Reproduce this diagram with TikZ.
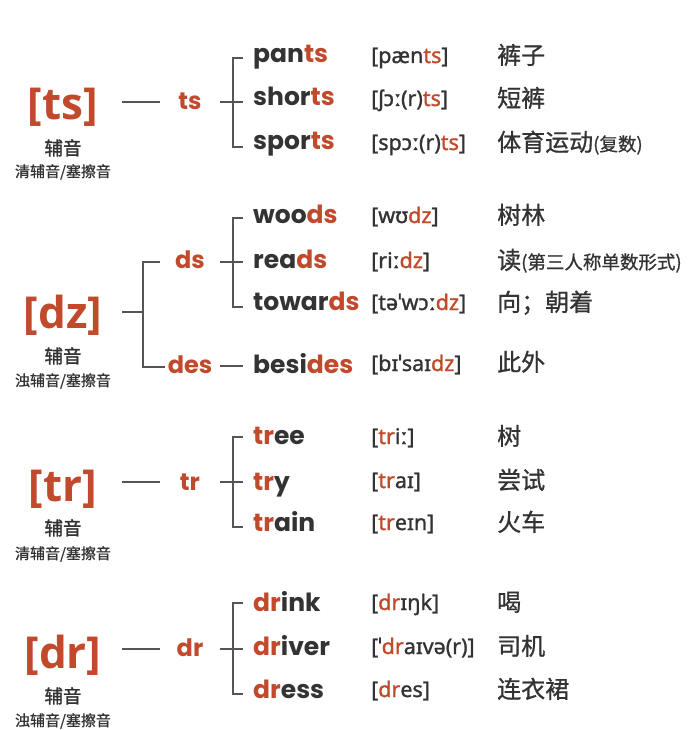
\documentclass[tikz,border=0pt]{standalone}
\usepackage{fontspec}
\setmainfont{Open Sans}
\newfontfamily\popf{Poppins}
\newfontfamily\bigf{Open Sans}
\newfontfamily\ipaf{Noto Sans}[FakeBold=1.2]
\newfontfamily\cjkf{Noto Sans CJK SC}[FakeBold=0.8]
\newfontfamily\cjkh{Noto Sans CJK SC}[FakeBold=1.6]
\definecolor{rd}{HTML}{C04A2B}
\definecolor{dk}{HTML}{333333}
\definecolor{ln}{HTML}{555555}
\newcommand{\R}[1]{{\color{rd}#1}}
\tikzset{
  bigsym/.style={anchor=base, inner sep=0pt, text=rd, font=\bigf\bfseries\fontsize{44}{44}\selectfont},
  subone/.style={anchor=base, inner sep=0pt, text=dk, font=\cjkh\fontsize{18.5}{18.5}\selectfont},
  subtwo/.style={anchor=base, inner sep=0pt, text=dk, font=\cjkf\fontsize{15}{15}\selectfont},
  midsym/.style={anchor=base, inner sep=0pt, text=rd, font=\popf\bfseries\fontsize{24}{24}\selectfont},
  wordbox/.style={anchor=base west, inner sep=0pt, text=dk, font=\popf\bfseries\fontsize{25}{25}\selectfont},
  ipabox/.style={anchor=base west, inner sep=0pt, text=dk, font=\ipaf\fontsize{21.5}{21.5}\selectfont},
  meanbox/.style={anchor=base west, inner sep=0pt, text=dk, font=\cjkf\fontsize{24}{24}\selectfont},
  conn/.style={draw=ln, line width=1.2pt},
}
\newcommand{\sm}[1]{{\fontsize{18.5}{18.5}\selectfont #1}}
\begin{document}
\begin{tikzpicture}[x=1pt,y=-1pt]
\useasboundingbox[fill=white] (0,0) rectangle (690,730);

% ---------- section 1: ts ----------
\node[bigsym] (tsB) at (63,120) {[ts]};
\node[subone] (tsA) at (63,155) {辅音};
\node[subtwo] (tsC) at (63,177) {清辅音/塞擦音};
\node[midsym] (tsM) at (190,110) {ts};
\coordinate (tsL1) at (122,102); \coordinate (tsL2) at (160,102);
\draw[conn] (tsL1) -- (tsL2);
\coordinate (tsR1) at (220,102); \coordinate (tsR2) at (243,102);
\draw[conn] (tsR1) -- (tsR2);
\coordinate (tsT) at (243,58); \coordinate (tsTv) at (233,58);
\coordinate (tsE) at (243,147); \coordinate (tsEv) at (233,147);
\draw[conn] (tsT) -- (tsTv) -- (tsEv) -- (tsE);
\node[wordbox] (w1) at (253,63) {pan\R{ts}};
\node[wordbox] (w2) at (253,106) {shor\R{ts}};
\node[wordbox] (w3) at (253,150) {spor\R{ts}};
\node[ipabox] (p1) at (371,63) {[pæn\R{ts}]};
\node[ipabox] (p2) at (371,106) {[ʃɔː(r)\R{ts}]};
\node[ipabox] (p3) at (371,150) {[spɔː(r)\R{ts}]};
\node[meanbox] (m1) at (497,64) {裤子};
\node[meanbox] (m2) at (497,107) {短裤};
\node[meanbox] (m3) at (497,151) {体育运动\sm{(复数)}};

% ---------- section 2: dz ----------
\node[bigsym] (dzB) at (63,328) {[dz]};
\node[subone] (dzA) at (63,363) {辅音};
\node[subtwo] (dzC) at (63,386) {浊辅音/塞擦音};
\coordinate (dzL1) at (122,312); \coordinate (dzL2) at (143,312);
\draw[conn] (dzL1) -- (dzL2);
\coordinate (dzVt) at (143,262); \coordinate (dzVb) at (143,367);
\coordinate (dzTt) at (160,262); \coordinate (dzTb) at (165,367);
\draw[conn] (dzTt) -- (dzVt) -- (dzVb) -- (dzTb);
\node[midsym] (dsM) at (190,268) {ds};
\node[midsym] (desM) at (190,373) {des};
\coordinate (dsR1) at (220,262); \coordinate (dsR2) at (243,262);
\draw[conn] (dsR1) -- (dsR2);
\coordinate (dsT) at (243,218); \coordinate (dsTv) at (233,218);
\coordinate (dsE) at (243,307); \coordinate (dsEv) at (233,307);
\draw[conn] (dsT) -- (dsTv) -- (dsEv) -- (dsE);
\coordinate (desR1) at (220,366); \coordinate (desR2) at (243,366);
\draw[conn] (desR1) -- (desR2);
\node[wordbox] (w4) at (253,223) {woo\R{ds}};
\node[wordbox] (w5) at (253,268) {rea\R{ds}};
\node[wordbox] (w6) at (253,310) {towar\R{ds}};
\node[wordbox] (w7) at (253,373) {besi\R{des}};
\node[ipabox] (p4) at (371,223) {[wʊ\R{dz}]};
\node[ipabox] (p5) at (371,268) {[riː\R{dz}]};
\node[ipabox] (p6) at (371,310) {[təˈwɔː\R{dz}]};
\node[ipabox] (p7) at (371,371) {[bɪˈsaɪ\R{dz}]};
\node[meanbox] (m4) at (497,224) {树林};
\node[meanbox] (m5) at (497,269) {读\sm{(第三人称单数形式)}};
\node[meanbox] (m6) at (497,311) {向；朝着};
\node[meanbox] (m7) at (497,371) {此外};

% ---------- section 3: tr ----------
\node[bigsym] (trB) at (63,501) {[tr]};
\node[subone] (trA) at (63,535) {辅音};
\node[subtwo] (trC) at (63,559) {清辅音/塞擦音};
\node[midsym] (trM) at (190,490) {tr};
\coordinate (trL1) at (122,482); \coordinate (trL2) at (160,482);
\draw[conn] (trL1) -- (trL2);
\coordinate (trR1) at (220,482); \coordinate (trR2) at (243,482);
\draw[conn] (trR1) -- (trR2);
\coordinate (trT) at (243,437); \coordinate (trTv) at (233,437);
\coordinate (trE) at (243,527); \coordinate (trEv) at (233,527);
\draw[conn] (trT) -- (trTv) -- (trEv) -- (trE);
\node[wordbox] (w8) at (253,444) {\R{tr}ee};
\node[wordbox] (w9) at (253,490) {\R{tr}y};
\node[wordbox] (w10) at (253,531) {\R{tr}ain};
\node[ipabox] (p8) at (371,444) {[\R{tr}iː]};
\node[ipabox] (p9) at (371,488) {[\R{tr}aɪ]};
\node[ipabox] (p10) at (371,530) {[\R{tr}eɪn]};
\node[meanbox] (m8) at (497,445) {树};
\node[meanbox] (m9) at (497,489) {尝试};
\node[meanbox] (m10) at (497,531) {火车};

% ---------- section 4: dr ----------
\node[bigsym] (drB) at (63,668) {[dr]};
\node[subone] (drA) at (63,703) {辅音};
\node[subtwo] (drC) at (63,726) {浊辅音/塞擦音};
\node[midsym] (drM) at (190,656) {dr};
\coordinate (drL1) at (122,649); \coordinate (drL2) at (160,649);
\draw[conn] (drL1) -- (drL2);
\coordinate (drR1) at (220,649); \coordinate (drR2) at (243,649);
\draw[conn] (drR1) -- (drR2);
\coordinate (drT) at (243,603); \coordinate (drTv) at (233,603);
\coordinate (drE) at (243,694); \coordinate (drEv) at (233,694);
\draw[conn] (drT) -- (drTv) -- (drEv) -- (drE);
\node[wordbox] (w11) at (253,611) {\R{dr}ink};
\node[wordbox] (w12) at (253,655) {\R{dr}iver};
\node[wordbox] (w13) at (253,698) {\R{dr}ess};
\node[ipabox] (p11) at (371,610) {[\R{dr}ɪŋk]};
\node[ipabox] (p12) at (371,654) {[ˈ\R{dr}aɪvə(r)]};
\node[ipabox] (p13) at (371,697) {[\R{dr}es]};
\node[meanbox] (m11) at (497,611) {喝};
\node[meanbox] (m12) at (497,655) {司机};
\node[meanbox] (m13) at (497,698) {连衣裙};
\end{tikzpicture}
\end{document}
